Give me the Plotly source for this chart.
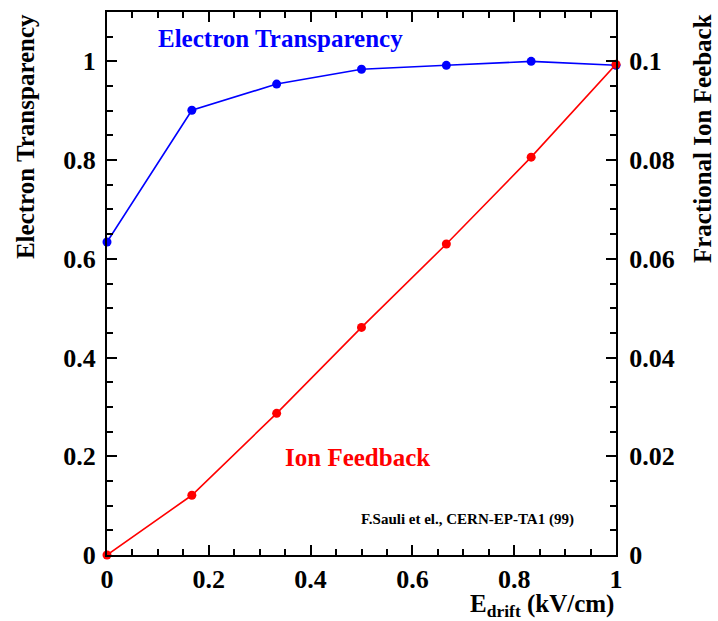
import plotly.graph_objects as go

# Drift field (kV/cm)
e_drift = [0.0, 0.1667, 0.3333, 0.5, 0.6667, 0.8333, 1.0]
# Electron transparency (left axis)
transparency = [0.634, 0.901, 0.954, 0.984, 0.992, 1.0, 0.992]
# Fractional ion feedback (right axis)
ion_feedback = [0.0, 0.0121, 0.0287, 0.0461, 0.0630, 0.0806, 0.0994]

FONT = "Liberation Serif"
tickfont = dict(family=FONT, size=26, color="black", weight="bold")

fig = go.Figure()
fig.add_trace(go.Scatter(
    x=e_drift, y=transparency, mode="lines+markers",
    line=dict(color="#0000ff", width=1.6),
    marker=dict(color="#0000ff", size=9),
    yaxis="y", cliponaxis=False, showlegend=False))
fig.add_trace(go.Scatter(
    x=e_drift, y=ion_feedback, mode="lines+markers",
    line=dict(color="#ff0000", width=1.6),
    marker=dict(color="#ff0000", size=9),
    yaxis="y2", cliponaxis=False, showlegend=False))

axis_common = dict(showgrid=False, zeroline=False, showline=True,
                   linecolor="black", linewidth=2, ticks="inside",
                   tickcolor="black", tickwidth=1.5, tickfont=tickfont)

fig.update_layout(
    width=718, height=621,
    margin=dict(l=107, r=102, t=10, b=66),
    paper_bgcolor="white", plot_bgcolor="white",
    xaxis=dict(range=[0, 1], ticklen=10, mirror="ticks",
               minor=dict(dtick=0.05, ticklen=6, ticks="inside", tickcolor="black"),
               tickvals=[0, 0.2, 0.4, 0.6, 0.8, 1.0],
               ticktext=["0", "0.2", "0.4", "0.6", "0.8", "1"],
               ticklabelstandoff=0,
               **axis_common),
    yaxis=dict(range=[0, 1.1], ticklen=10,
               tickvals=[0, 0.2, 0.4, 0.6, 0.8, 1.0],
               ticktext=["0", "0.2", "0.4", "0.6", "0.8", "1"],
               minor=dict(dtick=0.05, ticklen=6, ticks="inside", tickcolor="black"),
               ticklabelstandoff=4,
               **axis_common),
    yaxis2=dict(range=[0, 0.11], overlaying="y", side="right", ticklen=10,
                tickvals=[0, 0.02, 0.04, 0.06, 0.08, 0.1],
                ticktext=["0", "0.02", "0.04", "0.06", "0.08", "0.1"],
                minor=dict(dtick=0.005, ticklen=6, ticks="inside", tickcolor="black"),
                ticklabelstandoff=6,
                **axis_common),
    annotations=[
        dict(text="Electron Transparency", xref="paper", yref="paper",
             x=-0.16, y=1.0, xanchor="center", yanchor="top", textangle=-90,
             showarrow=False,
             font=dict(family=FONT, size=25, color="black", weight="bold")),
        dict(text="Fractional Ion Feeback", xref="paper", yref="paper",
             x=1.17, y=1.0, xanchor="center", yanchor="top", textangle=-90,
             showarrow=False,
             font=dict(family=FONT, size=25, color="black", weight="bold")),
        dict(text="E<sub>drift</sub> (kV/cm)", xref="paper", yref="paper",
             x=1.0, y=-0.06, xanchor="right", yanchor="top",
             showarrow=False,
             font=dict(family=FONT, size=25, color="black", weight="bold")),
        dict(text="Electron Transparency", xref="x", yref="paper",
             x=0.341, y=0.952, xanchor="center", yanchor="middle",
             showarrow=False,
             font=dict(family=FONT, size=25, color="#0000ff", weight="bold")),
        dict(text="Ion Feedback", xref="x", yref="paper",
             x=0.492, y=0.18, xanchor="center", yanchor="middle",
             showarrow=False,
             font=dict(family=FONT, size=25, color="#ff0000", weight="bold")),
        dict(text="F.Sauli et el., CERN-EP-TA1 (99)", xref="x", yref="paper",
             x=0.709, y=0.066, xanchor="center", yanchor="middle",
             showarrow=False,
             font=dict(family=FONT, size=15, color="black", weight="bold")),
    ],
)

fig.write_html("out.html")
